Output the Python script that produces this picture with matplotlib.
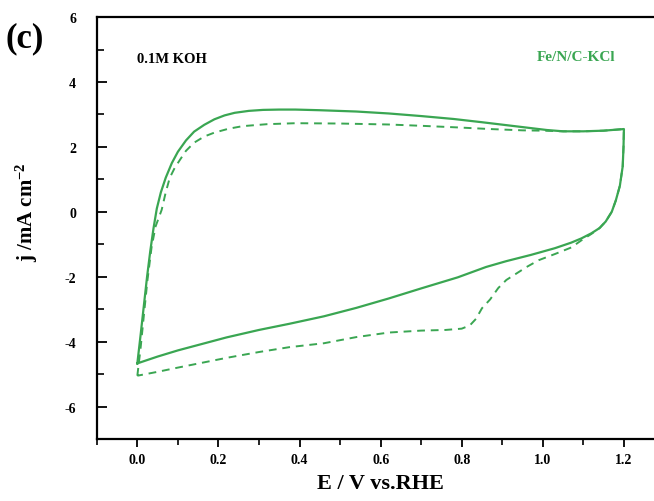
import matplotlib
matplotlib.use("Agg")
import matplotlib.pyplot as plt
from matplotlib.ticker import MultipleLocator

# CV loop, solid trace: anodic sweep 0 -> 1.2 V, then cathodic sweep back
solid_fwd_E = [0.0, 0.008, 0.016, 0.024, 0.032, 0.04, 0.048, 0.058, 0.07, 0.085,
               0.10, 0.12, 0.14, 0.165, 0.19, 0.215, 0.24, 0.275, 0.31, 0.35,
               0.39, 0.45, 0.54, 0.62, 0.70, 0.78, 0.85, 0.91, 0.97, 1.01,
               1.05, 1.10, 1.15, 1.20]
solid_fwd_j = [-4.67, -3.8, -2.9, -2.0, -1.2, -0.5, 0.1, 0.6, 1.05, 1.5,
               1.85, 2.2, 2.47, 2.68, 2.85, 2.97, 3.05, 3.11, 3.14, 3.15,
               3.15, 3.13, 3.09, 3.03, 2.95, 2.86, 2.76, 2.67, 2.58, 2.52,
               2.48, 2.48, 2.5, 2.55]
solid_rev_E = [1.20, 1.199, 1.197, 1.19, 1.18, 1.17, 1.155, 1.14, 1.12, 1.095,
               1.07, 1.03, 0.97, 0.91, 0.86, 0.79, 0.70, 0.62, 0.54, 0.46,
               0.375, 0.30, 0.22, 0.16, 0.10, 0.05, 0.0]
solid_rev_j = [2.55, 2.0, 1.4, 0.8, 0.35, 0.0, -0.3, -0.5, -0.66, -0.82,
               -0.95, -1.12, -1.33, -1.52, -1.7, -2.02, -2.36, -2.67, -2.96, -3.22,
               -3.45, -3.64, -3.87, -4.07, -4.27, -4.46, -4.67]

# dashed trace
dash_fwd_E = [0.0, 0.008, 0.016, 0.025, 0.035, 0.045, 0.06, 0.07, 0.08, 0.092,
              0.105, 0.12, 0.14, 0.165, 0.19, 0.225, 0.26, 0.32, 0.39, 0.50,
              0.62, 0.70, 0.79, 0.87, 0.95, 1.0, 1.05, 1.10, 1.15, 1.20]
dash_fwd_j = [-5.05, -4.2, -3.2, -2.1, -1.1, -0.45, 0.06, 0.6, 1.05, 1.35,
              1.6, 1.88, 2.13, 2.32, 2.44, 2.56, 2.64, 2.70, 2.73, 2.72,
              2.69, 2.65, 2.6, 2.55, 2.51, 2.5, 2.48, 2.48, 2.5, 2.55]
dash_rev_E = [1.20, 1.199, 1.197, 1.19, 1.18, 1.17, 1.155, 1.14, 1.12, 1.095,
              1.07, 1.03, 0.99, 0.96, 0.935, 0.91, 0.89, 0.87, 0.85, 0.835,
              0.82, 0.80, 0.76, 0.70, 0.62, 0.54, 0.46, 0.375, 0.30, 0.22,
              0.16, 0.10, 0.05, 0.0]
dash_rev_j = [2.55, 2.0, 1.4, 0.8, 0.35, 0.0, -0.3, -0.5, -0.68, -0.88,
              -1.1, -1.3, -1.49, -1.7, -1.9, -2.1, -2.35, -2.7, -2.97, -3.3,
              -3.5, -3.6, -3.64, -3.66, -3.72, -3.86, -4.05, -4.17, -4.32, -4.5,
              -4.65, -4.8, -4.93, -5.05]

x_ticks = [0.0, 0.2, 0.4, 0.6, 0.8, 1.0, 1.2]
y_ticks = [-6, -4, -2, 0, 2, 4, 6]

GREEN = "#3aa652"

plt.rcParams["font.family"] = ["Liberation Serif", "DejaVu Serif"]
plt.rcParams["font.weight"] = "bold"
plt.rcParams["axes.unicode_minus"] = False
plt.rcParams["mathtext.fontset"] = "custom"
plt.rcParams["mathtext.rm"] = "Liberation Serif:bold"
plt.rcParams["mathtext.default"] = "rm"

fig = plt.figure(figsize=(6.54, 5.02), dpi=100)
# the right edge of the frame runs off the canvas
ax = fig.add_axes([0.148, 0.1235, 0.868, 0.8405])

ax.plot(solid_fwd_E + solid_rev_E, solid_fwd_j + solid_rev_j,
        color=GREEN, lw=1.6)
ax.plot(dash_fwd_E + dash_rev_E, dash_fwd_j + dash_rev_j,
        color=GREEN, lw=1.4, ls=(0, (4, 3)))

ax.set_xlim(-0.1, 1.3)
ax.set_ylim(-7, 6)
ax.set_xticks(x_ticks)
ax.set_xticklabels([f"{v:.1f}" for v in x_ticks])
ax.set_yticks(y_ticks)
ax.xaxis.set_minor_locator(MultipleLocator(0.1))
ax.yaxis.set_minor_locator(MultipleLocator(1))

ax.tick_params(axis="x", which="major", direction="out", length=6, width=1.3,
               labelsize=10, pad=4)
ax.tick_params(axis="x", which="minor", direction="out", length=4, width=1.2)
ax.tick_params(axis="y", which="major", direction="in", length=7, width=1.3,
               labelsize=10, pad=15)
ax.tick_params(axis="y", which="minor", direction="in", length=5, width=1.2)
for s in ax.spines.values():
    s.set_linewidth(1.6)
ax.spines["right"].set_visible(False)

ax.set_xlabel("E / V vs.RHE", fontsize=16, fontweight="bold", labelpad=5)
ax.set_ylabel(r"j /mA cm$^{-2}$", fontsize=15, fontweight="bold")
ax.yaxis.set_label_coords(-0.1, 0.54)

ax.text(0.0, 4.72, "0.1M KOH", fontsize=10.5, fontweight="bold", va="center")
ax.text(0.985, 4.78, "Fe/N/C-KCl", fontsize=11, fontweight="bold", color=GREEN,
        va="center")
fig.text(0.008, 0.905, "(c)", fontsize=25, fontweight="bold")

fig.savefig("out.png", dpi=100)
